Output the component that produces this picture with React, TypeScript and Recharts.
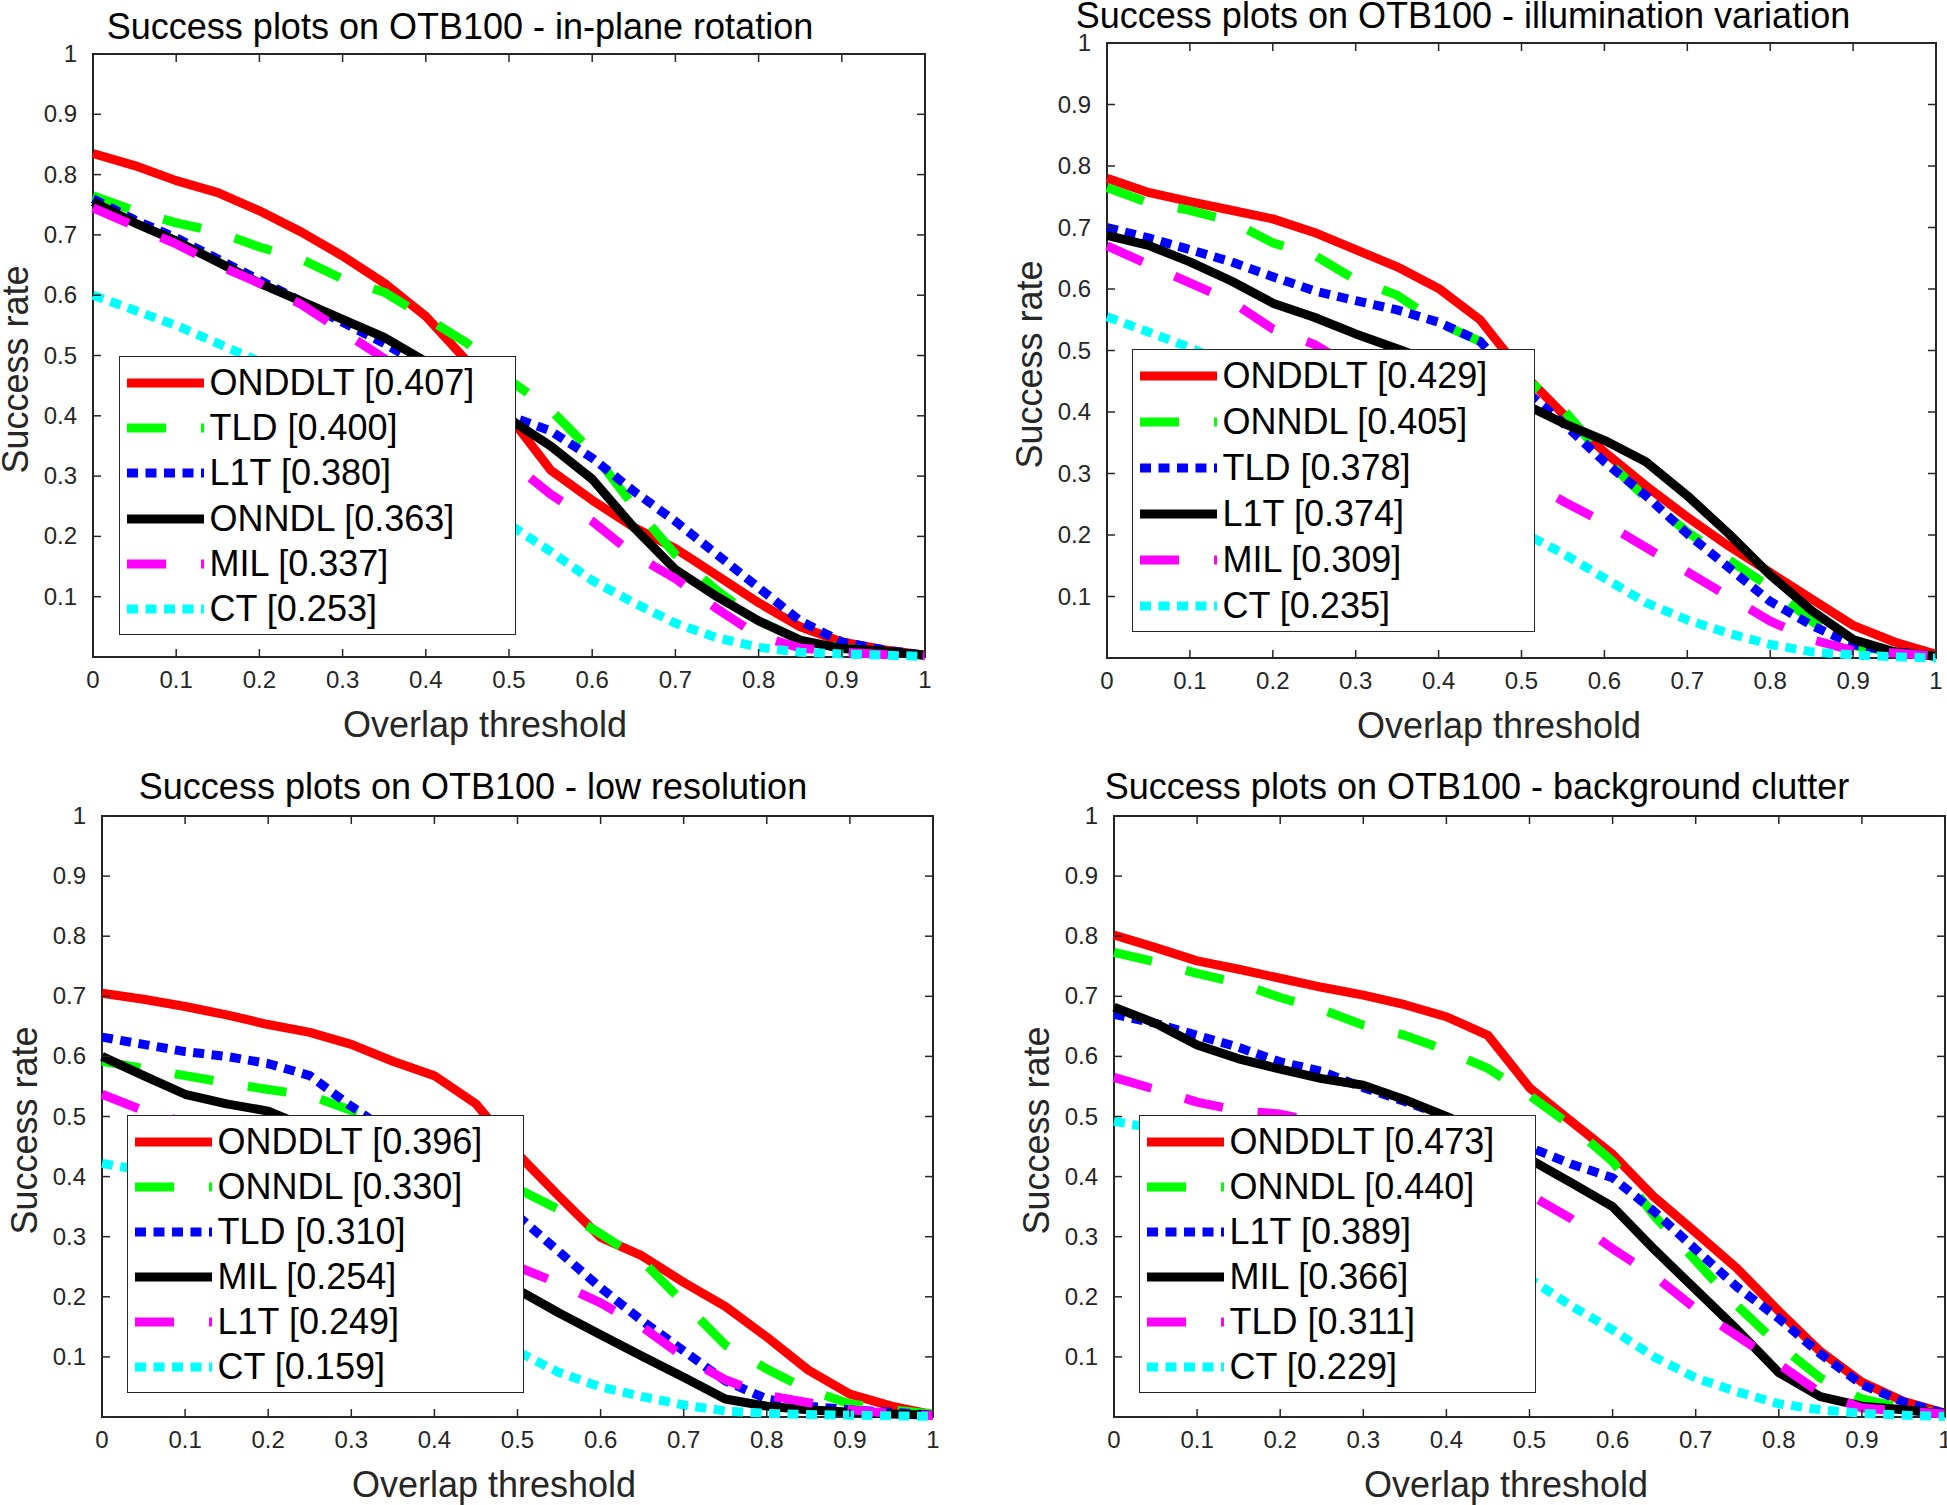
import { Legend, Line, LineChart, ReferenceArea, XAxis, YAxis } from "recharts";

const FONT = "'Liberation Sans', Arial, Helvetica, sans-serif";
const INK = "#262626";

// overlap thresholds sampled by the OTB toolkit
const thresholds = [0, 0.05, 0.1, 0.15, 0.2, 0.25, 0.3, 0.35, 0.4, 0.45, 0.5, 0.55, 0.6, 0.65, 0.7, 0.75, 0.8, 0.85, 0.9, 0.95, 1];
const xTicks = [0, 0.1, 0.2, 0.3, 0.4, 0.5, 0.6, 0.7, 0.8, 0.9, 1];
const yTicks = [0.1, 0.2, 0.3, 0.4, 0.5, 0.6, 0.7, 0.8, 0.9, 1];

// in-plane rotation
const iprTitle = "Success plots on OTB100 - in-plane rotation";
const iprTrackers = ["ONDDLT", "TLD", "L1T", "ONNDL", "MIL", "CT"];
const iprScores = ["0.407", "0.400", "0.380", "0.363", "0.337", "0.253"];
const iprOnddlt = [0.835, 0.815, 0.79, 0.77, 0.74, 0.705, 0.665, 0.62, 0.565, 0.49, 0.4, 0.31, 0.26, 0.215, 0.18, 0.135, 0.09, 0.05, 0.025, 0.012, 0.003];
const iprTld = [0.765, 0.74, 0.72, 0.705, 0.68, 0.66, 0.627, 0.605, 0.563, 0.52, 0.46, 0.41, 0.34, 0.25, 0.17, 0.11, 0.06, 0.028, 0.015, 0.008, 0.003];
const iprL1t = [0.76, 0.725, 0.695, 0.66, 0.625, 0.59, 0.555, 0.52, 0.48, 0.44, 0.4, 0.375, 0.33, 0.275, 0.225, 0.17, 0.115, 0.06, 0.025, 0.012, 0.003];
const iprOnndl = [0.755, 0.72, 0.69, 0.655, 0.62, 0.59, 0.56, 0.53, 0.49, 0.445, 0.395, 0.35, 0.295, 0.215, 0.145, 0.1, 0.06, 0.028, 0.014, 0.01, 0.003];
const iprMil = [0.745, 0.715, 0.685, 0.65, 0.62, 0.585, 0.54, 0.495, 0.45, 0.39, 0.325, 0.27, 0.225, 0.17, 0.13, 0.08, 0.035, 0.015, 0.008, 0.004, 0.002];
const iprCt = [0.6, 0.575, 0.55, 0.52, 0.49, 0.455, 0.415, 0.37, 0.32, 0.27, 0.22, 0.175, 0.127, 0.09, 0.056, 0.032, 0.016, 0.008, 0.005, 0.003, 0.001];

// illumination variation
const ivTitle = "Success plots on OTB100 - illumination variation";
const ivTrackers = ["ONDDLT", "ONNDL", "TLD", "L1T", "MIL", "CT"];
const ivScores = ["0.429", "0.405", "0.378", "0.374", "0.309", "0.235"];
const ivOnddlt = [0.78, 0.757, 0.742, 0.728, 0.714, 0.692, 0.664, 0.636, 0.601, 0.55, 0.465, 0.397, 0.335, 0.28, 0.229, 0.182, 0.139, 0.096, 0.053, 0.026, 0.006];
const ivOnndl = [0.765, 0.74, 0.728, 0.71, 0.675, 0.655, 0.615, 0.59, 0.545, 0.515, 0.46, 0.405, 0.325, 0.26, 0.205, 0.16, 0.115, 0.06, 0.02, 0.01, 0.003];
const ivTld = [0.7, 0.683, 0.664, 0.644, 0.62, 0.597, 0.581, 0.566, 0.546, 0.515, 0.44, 0.382, 0.319, 0.264, 0.202, 0.147, 0.092, 0.053, 0.022, 0.01, 0.003];
const ivL1t = [0.687, 0.671, 0.644, 0.613, 0.577, 0.554, 0.527, 0.503, 0.478, 0.445, 0.415, 0.382, 0.354, 0.319, 0.264, 0.202, 0.135, 0.077, 0.03, 0.01, 0.003];
const ivMil = [0.67, 0.64, 0.61, 0.58, 0.535, 0.51, 0.47, 0.43, 0.39, 0.34, 0.295, 0.255, 0.22, 0.18, 0.14, 0.1, 0.06, 0.03, 0.012, 0.008, 0.003];
const ivCt = [0.555, 0.53, 0.505, 0.475, 0.44, 0.41, 0.37, 0.33, 0.29, 0.245, 0.205, 0.17, 0.13, 0.09, 0.062, 0.04, 0.022, 0.01, 0.005, 0.002, 0];

// low resolution
const lrTitle = "Success plots on OTB100 - low resolution";
const lrTrackers = ["ONDDLT", "ONNDL", "TLD", "MIL", "L1T", "CT"];
const lrScores = ["0.396", "0.330", "0.310", "0.254", "0.249", "0.159"];
const lrOnddlt = [0.705, 0.695, 0.683, 0.669, 0.653, 0.64, 0.62, 0.592, 0.568, 0.521, 0.438, 0.367, 0.299, 0.268, 0.224, 0.184, 0.133, 0.078, 0.038, 0.018, 0.004];
const lrOnndl = [0.592, 0.58, 0.568, 0.556, 0.545, 0.535, 0.51, 0.49, 0.46, 0.42, 0.38, 0.345, 0.305, 0.26, 0.19, 0.12, 0.08, 0.045, 0.022, 0.012, 0.005];
const lrTld = [0.632, 0.62, 0.608, 0.6, 0.588, 0.568, 0.517, 0.47, 0.43, 0.385, 0.335, 0.275, 0.215, 0.16, 0.11, 0.06, 0.03, 0.018, 0.012, 0.008, 0.003];
const lrMil = [0.6, 0.568, 0.537, 0.521, 0.509, 0.48, 0.44, 0.38, 0.32, 0.26, 0.212, 0.173, 0.137, 0.101, 0.066, 0.03, 0.018, 0.012, 0.008, 0.005, 0.003];
const lrL1t = [0.537, 0.51, 0.49, 0.465, 0.44, 0.41, 0.38, 0.35, 0.32, 0.285, 0.25, 0.222, 0.19, 0.15, 0.1, 0.062, 0.036, 0.024, 0.012, 0.006, 0.002];
const lrCt = [0.422, 0.41, 0.395, 0.37, 0.345, 0.31, 0.275, 0.235, 0.195, 0.15, 0.109, 0.074, 0.05, 0.034, 0.02, 0.01, 0.006, 0.004, 0.003, 0.002, 0.001];

// background clutter
const bcTitle = "Success plots on OTB100 - background clutter";
const bcTrackers = ["ONDDLT", "ONNDL", "L1T", "MIL", "TLD", "CT"];
const bcScores = ["0.473", "0.440", "0.389", "0.366", "0.311", "0.229"];
const bcOnddlt = [0.802, 0.781, 0.759, 0.745, 0.73, 0.715, 0.702, 0.686, 0.666, 0.635, 0.548, 0.492, 0.437, 0.366, 0.307, 0.247, 0.176, 0.109, 0.058, 0.026, 0.006];
const bcOnndl = [0.773, 0.757, 0.738, 0.722, 0.698, 0.678, 0.652, 0.635, 0.61, 0.58, 0.535, 0.485, 0.425, 0.335, 0.26, 0.185, 0.12, 0.065, 0.03, 0.015, 0.005];
const bcL1t = [0.67, 0.655, 0.635, 0.615, 0.591, 0.575, 0.548, 0.525, 0.5, 0.47, 0.449, 0.421, 0.398, 0.342, 0.279, 0.216, 0.164, 0.105, 0.054, 0.025, 0.006];
const bcMil = [0.682, 0.655, 0.619, 0.596, 0.579, 0.563, 0.552, 0.528, 0.5, 0.47, 0.429, 0.39, 0.35, 0.279, 0.212, 0.145, 0.074, 0.034, 0.018, 0.012, 0.005];
const bcTld = [0.565, 0.545, 0.524, 0.51, 0.504, 0.49, 0.47, 0.45, 0.42, 0.39, 0.37, 0.33, 0.28, 0.235, 0.18, 0.135, 0.088, 0.04, 0.015, 0.01, 0.005];
const bcCt = [0.492, 0.48, 0.465, 0.445, 0.42, 0.39, 0.36, 0.33, 0.29, 0.255, 0.23, 0.185, 0.145, 0.1, 0.065, 0.042, 0.022, 0.012, 0.006, 0.003, 0.001];

// line style by rank (same order in every panel)
const rankStyles: { color: string; dash?: string }[] = [
  { color: "#ff0000" },
  { color: "#00ff00", dash: "39 35" },
  { color: "#0000ff", dash: "11 7.5" },
  { color: "#000000" },
  { color: "#ff00ff", dash: "39 35" },
  { color: "#00ffff", dash: "11 7.5" },
];
const LINE_W = 9;

type Geo = {
  px: number; py: number; pw: number; ph: number;
  titleX: number; titleY: number;
  legX: number; legY: number; legW: number; legH: number;
};

// padding around the plot area inside each chart box
const PAD_L = 100;
const PAD_T = 60;
const PAD_B = 100; // x axis (50) + bottom margin (50), room for the axis title

function Panel({ title, trackers, scores, series, geo }: {
  title: string; trackers: string[]; scores: string[]; series: number[][]; geo: Geo;
}) {
  const W = geo.pw + PAD_L + 20;
  const H = geo.ph + PAD_T + PAD_B;
  const ox = geo.px - PAD_L;
  const oy = geo.py - PAD_T;
  const left = PAD_L, right = PAD_L + geo.pw, top = PAD_T, bottom = PAD_T + geo.ph;

  const data = thresholds.map((t, i) => {
    const row: Record<string, number> = { t };
    series.forEach((s, k) => (row["s" + k] = s[i]));
    return row;
  });

  const xTick = (p: any) => (
    <g>
      <line x1={p.x} y1={bottom} x2={p.x} y2={bottom - 8} stroke={INK} strokeWidth={1.5} />
      <line x1={p.x} y1={top} x2={p.x} y2={top + 8} stroke={INK} strokeWidth={1.5} />
      <text x={p.x} y={bottom + 31} textAnchor="middle" fontSize={24} fontFamily={FONT} fill={INK}>
        {String(p.payload.value)}
      </text>
    </g>
  );
  const yTick = (p: any) => (
    <g>
      <line x1={left} y1={p.y} x2={left + 8} y2={p.y} stroke={INK} strokeWidth={1.5} />
      <line x1={right} y1={p.y} x2={right - 8} y2={p.y} stroke={INK} strokeWidth={1.5} />
      <text x={left - 16} y={p.y + 8} textAnchor="end" fontSize={24} fontFamily={FONT} fill={INK}>
        {String(p.payload.value)}
      </text>
    </g>
  );

  const rowGap = (geo.legH - 53) / 5;
  const legendBox = () => (
    <div
      style={{
        width: geo.legW, height: geo.legH, boxSizing: "border-box", position: "relative",
        border: `1.5px solid ${INK}`, background: "#fff", fontFamily: FONT, fontSize: 36, color: "#000",
      }}
    >
      {trackers.map((name, k) => (
        <div
          key={name}
          style={{ position: "absolute", left: 0, top: 26 + k * rowGap - 22, height: 44, display: "flex", alignItems: "center", whiteSpace: "nowrap" }}
        >
          <svg width={77} height={12} style={{ marginLeft: 6.5, display: "block" }}>
            <line x1={0} y1={6} x2={77} y2={6} stroke={rankStyles[k].color} strokeWidth={LINE_W} strokeDasharray={rankStyles[k].dash} />
          </svg>
          <span style={{ marginLeft: 6, lineHeight: "44px" }}>{`${name} [${scores[k]}]`}</span>
        </div>
      ))}
    </div>
  );

  const yTitleX = left - 65;
  const yTitleY = top + geo.ph / 2 + 14;

  return (
    <div style={{ position: "absolute", left: ox, top: oy, width: W, height: H }}>
      <LineChart width={W} height={H} data={data} margin={{ top: PAD_T, right: 20, bottom: PAD_B - 50, left: 40 }}>
        <XAxis
          type="number" dataKey="t" domain={[0, 1]} ticks={xTicks} interval={0} height={50}
          axisLine={false} tickLine={false} tick={xTick}
          label={() => (
            <text x={left + 392} y={bottom + 80} textAnchor="middle" fontSize={36} fontFamily={FONT} fill={INK}>
              Overlap threshold
            </text>
          )}
        />
        <YAxis
          type="number" domain={[0, 1]} ticks={yTicks} interval={0} width={60}
          axisLine={false} tickLine={false} tick={yTick}
          label={() => (
            <text
              x={yTitleX} y={yTitleY} textAnchor="middle" fontSize={36} fontFamily={FONT} fill={INK}
              transform={`rotate(-90 ${yTitleX} ${yTitleY})`}
            >
              Success rate
            </text>
          )}
        />
        {series.map((_, k) => (
          <Line
            key={k} dataKey={"s" + k} name={trackers[k]} type="linear"
            stroke={rankStyles[k].color} strokeWidth={LINE_W} strokeDasharray={rankStyles[k].dash}
            strokeLinejoin="round" dot={false} activeDot={false} isAnimationActive={false}
          />
        ))}
        <ReferenceArea
          x1={0} x2={1} y1={0} y2={1} fill="none" fillOpacity={0} stroke={INK} strokeWidth={2} ifOverflow="visible"
          label={() => (
            <text x={geo.titleX - ox} y={geo.titleY - oy} textAnchor="middle" fontSize={36} fontFamily={FONT} fill="#000">
              {title}
            </text>
          )}
        />
        <Legend
          layout="vertical" verticalAlign="middle" align="center" content={legendBox}
          wrapperStyle={{ left: geo.legX - ox, top: geo.legY - oy, width: geo.legW, height: geo.legH }}
        />
      </LineChart>
    </div>
  );
}

export default function App() {
  return (
    <div style={{ position: "absolute", left: 0, top: 0, width: 1947, height: 1505, background: "#fff", overflow: "hidden" }}>
      <Panel
        title={iprTitle} trackers={iprTrackers} scores={iprScores}
        series={[iprOnddlt, iprTld, iprL1t, iprOnndl, iprMil, iprCt]}
        geo={{ px: 93, py: 54, pw: 832, ph: 603, titleX: 460, titleY: 38.5, legX: 119, legY: 356, legW: 397, legH: 279 }}
      />
      <Panel
        title={ivTitle} trackers={ivTrackers} scores={ivScores}
        series={[ivOnddlt, ivOnndl, ivTld, ivL1t, ivMil, ivCt]}
        geo={{ px: 1107, py: 43, pw: 829, ph: 615, titleX: 1463, titleY: 28, legX: 1132, legY: 349, legW: 403, legH: 283 }}
      />
      <Panel
        title={lrTitle} trackers={lrTrackers} scores={lrScores}
        series={[lrOnddlt, lrOnndl, lrTld, lrMil, lrL1t, lrCt]}
        geo={{ px: 102, py: 816, pw: 831, ph: 601, titleX: 473, titleY: 799, legX: 127, legY: 1115, legW: 397, legH: 278 }}
      />
      <Panel
        title={bcTitle} trackers={bcTrackers} scores={bcScores}
        series={[bcOnddlt, bcOnndl, bcL1t, bcMil, bcTld, bcCt]}
        geo={{ px: 1114, py: 816, pw: 831, ph: 601, titleX: 1477, titleY: 799, legX: 1139, legY: 1115, legW: 397, legH: 278 }}
      />
    </div>
  );
}
